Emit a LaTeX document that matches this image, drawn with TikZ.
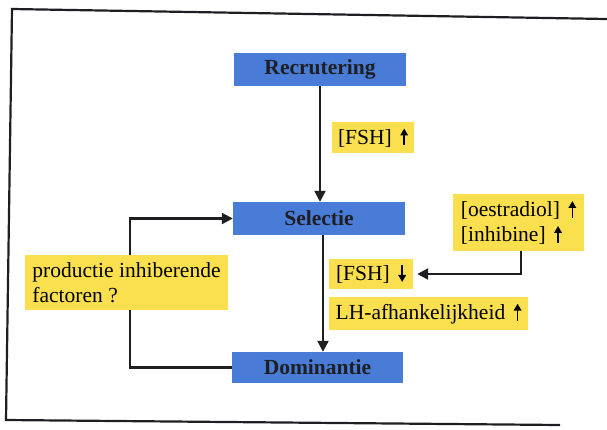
\documentclass[tikz,border=0pt]{standalone}
\usepackage{fontspec}
\setmainfont{Liberation Serif}
\usetikzlibrary{arrows.meta}
\definecolor{boxblue}{RGB}{72,124,214}
\definecolor{boxyellow}{RGB}{250,224,78}
\definecolor{ink}{RGB}{30,30,35}
\newcommand{\upar}{\hspace{0.4em}\tikz[baseline=0pt,x=1pt,y=1pt]\draw[black,line width=1.7pt,-{Triangle[length=7pt,width=7.5pt]}] (0,-1) -- (0,16);}
\newcommand{\dnar}{\hspace{0.4em}\tikz[baseline=0pt,x=1pt,y=1pt]\draw[black,line width=1.7pt,-{Triangle[length=7pt,width=7.5pt]}] (0,16) -- (0,-1);}
\begin{document}
\begin{tikzpicture}[x=1pt,y=-1pt,
  stage/.style={fill=boxblue, text=ink, font=\fontsize{21.5}{24}\selectfont\bfseries,
    inner sep=0pt, minimum height=33pt, minimum width=172pt},
  note/.style={fill=boxyellow, text=black, font=\fontsize{21.5}{25}\selectfont,
    inner sep=0pt, align=left},
  conn/.style={draw=ink, line width=2.2pt},
  link/.style={conn, -{Triangle[length=11pt,width=11pt]}}]
\useasboundingbox (0,0) rectangle (607,429);
% frame
\draw[conn, line join=miter] (607,19) -- (12,9) -- (6,420) -- (560,425);
% stages
\node[stage] (rec) at (320,69.5) {Recrutering};
\node[stage] (sel) at (319,218.5) {Selectie};
\node[stage, minimum height=31pt, minimum width=171pt] (dom) at (317.5,367.5) {Dominantie};
% notes
\node[note, minimum width=82pt, minimum height=31pt] (fshup) at (373,137.5) {[FSH]\upar};
\node[note, minimum width=131pt, minimum height=57pt] (oes) at (518.5,222.5) {[oestradiol]\upar\\\relax [inhibine]\upar};
\node[note, minimum width=84pt, minimum height=30pt] (fshdown) at (371,274) {[FSH]\dnar};
\node[note, minimum width=199pt, minimum height=33pt] (lh) at (428.5,313.5) {LH-afhankelijkheid\upar};
\node[note, minimum width=203pt, minimum height=55pt] (prod) at (126.5,282.5) {productie inhiberende\\factoren ?};
% connectors
\coordinate (ax) at (320,0);
\coordinate (bx) at (323,0);
\coordinate (ox) at (521,0);
\coordinate (px) at (130,0);
\draw[link] (ax |- rec.south) -- (ax |- sel.north);
\draw[link] (bx |- sel.south) -- (bx |- dom.north);
\draw[link, shorten >=4pt] (ox |- oes.south) |- (fshdown.east);
\draw[link] (px |- prod.north) |- (sel.west);
\draw[conn] (px |- prod.south) |- (dom.west);
\end{tikzpicture}
\end{document}
